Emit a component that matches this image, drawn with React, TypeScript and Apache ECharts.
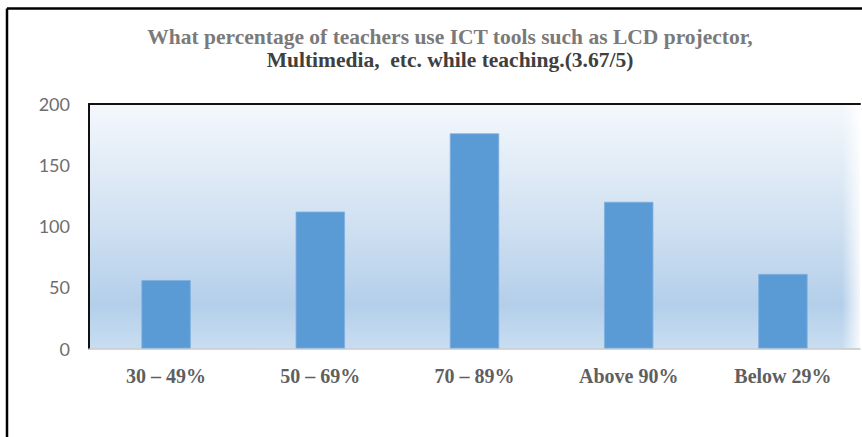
import React, { useEffect, useRef } from "react";
import * as echarts from "echarts";

const categories = ["30 – 49%", "50 – 69%", "70 – 89%", "Above 90%", "Below 29%"];
const values = [56, 112, 176, 120, 61];
const titleLine1 = "What percentage of teachers use ICT tools such as LCD projector,";
const titleLine2 = "Multimedia,  etc. while teaching.(3.67/5)";

export default function App() {
  const ref = useRef<HTMLDivElement>(null);
  useEffect(() => {
    const chart = echarts.init(ref.current!, null, { renderer: "svg" });
    chart.setOption({
      animation: false,
      backgroundColor: "#ffffff",
      title: {
        text: `{a|${titleLine1}}\n{b|${titleLine2}}`,
        left: 445,
        top: 20,
        textAlign: "center",
        textStyle: {
          rich: {
            a: { fontFamily: "Liberation Serif", fontWeight: "bold", fontSize: 21.5, color: "#7a7a7a", lineHeight: 23 },
            b: { fontFamily: "Liberation Serif", fontWeight: "bold", fontSize: 21.5, color: "#404040", lineHeight: 23 },
          },
        },
      },
      graphic: [
        { type: "line", shape: { x1: 7, y1: 8.5, x2: 862, y2: 8.5 }, style: { stroke: "#000", lineWidth: 2.5 } },
        { type: "line", shape: { x1: 7, y1: 8.5, x2: 7, y2: 437 }, style: { stroke: "#000", lineWidth: 2.5 } },
        {
          type: "rect",
          shape: { x: 842, y: 104, width: 18, height: 244 },
          style: {
            fill: new echarts.graphic.LinearGradient(0, 0, 1, 0, [
              { offset: 0, color: "rgba(255,255,255,0)" },
              { offset: 1, color: "rgba(255,255,255,0.85)" },
            ]),
          },
          z: 0,
        },
      ],
      grid: {
        left: 89,
        top: 104,
        right: 2,
        bottom: 88.5,
        show: true,
        borderWidth: 0,
        backgroundColor: new echarts.graphic.LinearGradient(0, 0, 0, 1, [
          { offset: 0, color: "#f4f8fc" },
          { offset: 0.5, color: "#cfe0f1" },
          { offset: 0.82, color: "#b4cfea" },
          { offset: 1, color: "#c8ddf1" },
        ]),
      },
      xAxis: [
        {
          type: "category",
          data: categories,
          axisLine: { show: true, lineStyle: { color: "#c8c8c8", width: 1.5 } },
          axisTick: { show: false },
          axisLabel: {
            fontFamily: "Liberation Serif",
            fontWeight: "bold",
            fontSize: 20,
            color: "#5f5f5f",
            margin: 17,
          },
        },
        {
          type: "category",
          data: categories,
          position: "top",
          axisLine: { show: true, lineStyle: { color: "#111", width: 2 } },
          axisTick: { show: false },
          axisLabel: { show: false },
        },
      ],
      yAxis: {
        type: "value",
        min: 0,
        max: 200,
        interval: 50,
        axisLine: { show: true, lineStyle: { color: "#111", width: 2 } },
        axisTick: { show: false },
        splitLine: { show: false },
        axisLabel: { fontFamily: "Lato", fontSize: 18, color: "#6e6e6e", margin: 19 },
      },
      series: [
        {
          type: "bar",
          data: values,
          barWidth: "32%",
          itemStyle: { color: "#5b9bd5", borderColor: "#7fb0e0", borderWidth: 0.8 },
          z: 3,
        },
      ],
    });
    return () => chart.dispose();
  }, []);
  return <div ref={ref} style={{ position: "fixed", left: 0, top: 0, width: 862, height: 437 }} />;
}
